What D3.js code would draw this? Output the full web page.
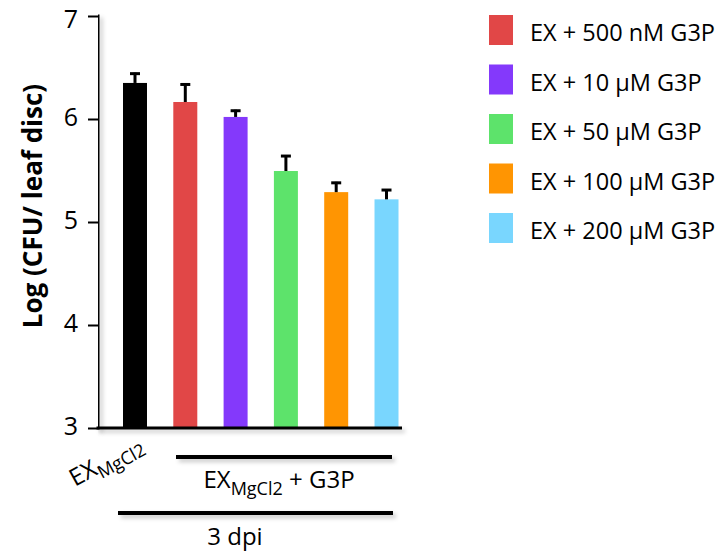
<!DOCTYPE html>
<html><head><meta charset="utf-8">
<script src="https://cdn.jsdelivr.net/npm/d3@7"></script>
<style>body{margin:0;background:#fff}svg{display:block}text{font-family:"Open Sans",sans-serif}</style>
</head><body><svg id="c" width="720" height="554"></svg>
<script>
const categories = ["EX MgCl2","EX + 500 nM G3P","EX + 10 µM G3P","EX + 50 µM G3P","EX + 100 µM G3P","EX + 200 µM G3P"];
const values = [6.35, 6.165, 6.02, 5.495, 5.29, 5.22];
const errors = [0.10, 0.18, 0.07, 0.155, 0.10, 0.10];
const colors = ["#000000","#e14747","#8439fb","#5de36b","#ff9502","#79d6fe"];
const yTicks = [3,4,5,6,7];
const legendLabels = ["EX + 500 nM G3P","EX + 10 µM G3P","EX + 50 µM G3P","EX + 100 µM G3P","EX + 200 µM G3P"];

const svg = d3.select("#c");
const defs = svg.append("defs");
const f = defs.append("filter").attr("id","sh").attr("filterUnits","userSpaceOnUse")
  .attr("x",0).attr("y",0).attr("width",720).attr("height",554);
f.append("feDropShadow").attr("dx",3).attr("dy",3).attr("stdDeviation",2).attr("flood-color","#000").attr("flood-opacity",0.22);

const y = d3.scaleLinear().domain([3,7]).range([428,16]);
const x = d3.scaleBand().domain(categories).range([123, 398.5]).paddingInner(0.523).paddingOuter(0);

// bars
svg.append("g").selectAll("rect").data(values).join("rect")
  .attr("x",(d,i)=>x(categories[i]))
  .attr("width",x.bandwidth())
  .attr("y",d=>y(d))
  .attr("height",d=>y(3)-y(d))
  .attr("fill",(d,i)=>colors[i]);

// error bars
const eg = svg.append("g").attr("stroke","#000").attr("stroke-width",3);
values.forEach((v,i)=>{
  const cx = x(categories[i])+x.bandwidth()/2;
  eg.append("line").attr("x1",cx).attr("x2",cx).attr("y1",y(v)).attr("y2",y(v+errors[i]));
  eg.append("line").attr("x1",cx-5).attr("x2",cx+5).attr("y1",y(v+errors[i])+1).attr("y2",y(v+errors[i])+1);
});

// y axis
const ya = svg.append("g").attr("transform","translate(98,0)")
  .call(d3.axisLeft(y).tickValues(yTicks).tickSize(10).tickSizeOuter(0).tickPadding(10).tickFormat(d3.format("d")));
ya.select(".domain").attr("stroke-width",3).attr("d","M0,14.5V429.5").attr("filter","url(#sh)");
ya.selectAll(".tick line").attr("stroke-width",2);
ya.selectAll(".tick text").attr("font-size",25).attr("font-family","Open Sans, sans-serif").attr("fill","#000")
  .attr("dy",d=>d===7?"11px":"6px");

// x axis line
svg.append("line").attr("x1",96.5).attr("x2",402).attr("y1",428).attr("y2",428).attr("stroke","#000").attr("stroke-width",3).attr("filter","url(#sh)");

// y label
svg.append("text").attr("transform","translate(42,206) rotate(-90)").attr("text-anchor","middle")
  .attr("font-size",26).attr("font-weight","bold").text("Log (CFU/ leaf disc)");

// rotated category label
const rl = svg.append("text").attr("transform","translate(75,487) rotate(-29)").attr("font-size",24);
rl.append("tspan").text("EX");
rl.append("tspan").attr("font-size",18).attr("dy",6).text("MgCl2");

// group lines
svg.append("line").attr("x1",176).attr("x2",392).attr("y1",457).attr("y2",457).attr("stroke","#000").attr("stroke-width",4).attr("filter","url(#sh)");
const gl = svg.append("text").attr("x",279).attr("y",488).attr("text-anchor","middle").attr("font-size",24);
gl.append("tspan").text("EX");
gl.append("tspan").attr("font-size",18).attr("dy",7).text("MgCl2");
gl.append("tspan").attr("dy",-7).text(" + G3P");

svg.append("line").attr("x1",118).attr("x2",393).attr("y1",513).attr("y2",513).attr("stroke","#000").attr("stroke-width",4).attr("filter","url(#sh)");
svg.append("text").attr("x",235).attr("y",545).attr("text-anchor","middle").attr("font-size",24).text("3 dpi");

// legend
const lg = svg.append("g");
legendLabels.forEach((t,i)=>{
  const yy = 15 + i*49.5;
  lg.append("rect").attr("x",489).attr("y",yy).attr("width",24).attr("height",30).attr("fill",colors[i+1]);
  lg.append("text").attr("x",530).attr("y",yy+26).attr("font-size",23.5).text(t);
});
</script></body></html>
